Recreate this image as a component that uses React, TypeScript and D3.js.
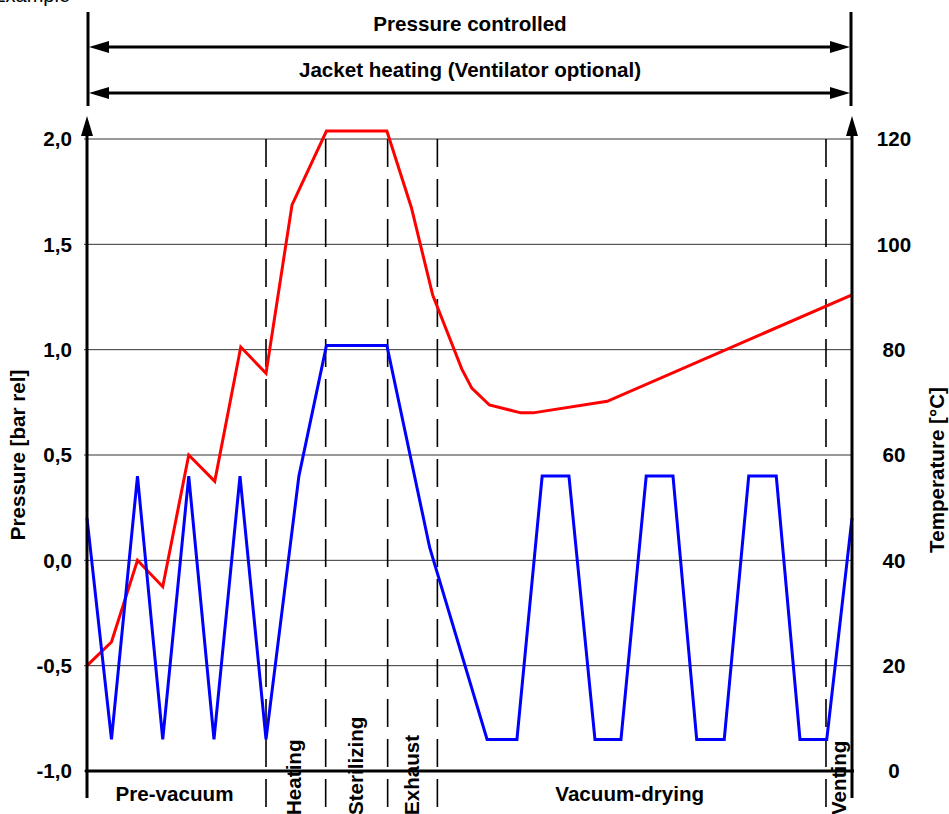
import React from 'react';
import * as d3 from 'd3';

// process time in arbitrary units (0 = start, 100 = end of cycle)
const pressureTime = [0, 3.2, 6.6, 9.9, 13.3, 16.6, 20.0, 23.4, 27.7, 31.3, 39.2, 44.8, 52.3, 56.2, 59.5, 63.0, 66.4, 69.8, 73.1, 76.6, 79.7, 83.3, 86.5, 90.1, 93.2, 96.7, 100];
const pressureValues = [0.2, -0.85, 0.4, -0.85, 0.4, -0.85, 0.4, -0.85, 0.4, 1.02, 1.02, 0.06, -0.85, -0.85, 0.4, 0.4, -0.85, -0.85, 0.4, 0.4, -0.85, -0.85, 0.4, 0.4, -0.85, -0.85, 0.2];

const tempTime = [0, 3.2, 6.6, 9.9, 13.3, 16.7, 20.1, 23.4, 26.8, 31.3, 39.2, 42.4, 45.2, 49.0, 50.3, 52.6, 56.7, 58.3, 68.0, 100];
const tempValues = [20, 24.5, 40, 35, 60, 55, 80.5, 75.5, 107.5, 121.5, 121.5, 107, 90.3, 76.3, 72.7, 69.5, 68, 68, 70.2, 90.4];

const phaseBounds = [23.4, 31.2, 39.3, 45.8, 96.6];

const pressureTicks = [2, 1.5, 1, 0.5, 0, -0.5, -1];
const pressureTickLabels = ['2,0', '1,5', '1,0', '0,5', '0,0', '-0,5', '-1,0'];
const tempTicks = [120, 100, 80, 60, 40, 20, 0];

const flatPhases = ['Pre-vacuum', 'Vacuum-drying'];
const flatPhaseSpan = [[0, 23.4], [45.8, 96.6]];
const tallPhases = ['Heating', 'Sterilizing', 'Exhaust', 'Venting'];
const tallPhaseBaseline = [301, 363, 419, 846];

const spans = ['Pressure controlled', 'Jacket heating (Ventilator optional)'];

const FONT = '"Liberation Sans", Arial, sans-serif';
const FS = 20.6;

function arrowHead(tx: number, ty: number, dir: 'left' | 'right' | 'up') {
  const len = 20, half = 6;
  if (dir === 'left') return `M${tx},${ty}L${tx + len},${ty - half}L${tx + len},${ty + half}Z`;
  if (dir === 'right') return `M${tx},${ty}L${tx - len},${ty - half}L${tx - len},${ty + half}Z`;
  return `M${tx},${ty}L${tx - half},${ty + len}L${tx + half},${ty + len}Z`;
}

export default function App() {
  const width = 949;
  const height = 814;
  const x = d3.scaleLinear().domain([0, 100]).range([87, 852]);
  const yP = d3.scaleLinear().domain([-1, 2]).range([771, 139]);
  const yT = d3.scaleLinear().domain([0, 120]).range([771, 139]);

  const pLine = d3.line<number>()
    .x((_, i) => x(pressureTime[i]))
    .y(d => yP(d));
  const tLine = d3.line<number>()
    .x((_, i) => x(tempTime[i]))
    .y(d => yT(d));

  const x0 = x(0);
  const x1 = x(100);
  const bottom = yP(-1);
  const top = yP(2);

  return (
    <svg width={width} height={height} style={{ position: 'absolute', left: 0, top: 0, background: '#fff' }}
      fontFamily={FONT}>
      {/* cut-off caption */}
      <text x={70} y={2} textAnchor="end" fontSize={20}>Example</text>

      {/* top spans */}
      <line x1={x0 + 1} x2={x0 + 1} y1={12} y2={106} stroke="#000" strokeWidth={3} />
      <line x1={x1 - 1} x2={x1 - 1} y1={12} y2={106} stroke="#000" strokeWidth={3} />
      {spans.map((s, i) => {
        const ly = i === 0 ? 47 : 93;
        return (
          <g key={s}>
            <text x={470} y={ly - 16} textAnchor="middle" fontSize={FS} fontWeight="bold">{s}</text>
            <line x1={x0 + 12} x2={x1 - 12} y1={ly} y2={ly} stroke="#000" strokeWidth={3} />
            <path d={arrowHead(x0 + 2, ly, 'left')} fill="#000" />
            <path d={arrowHead(x1 - 2, ly, 'right')} fill="#000" />
          </g>
        );
      })}

      {/* grid */}
      {pressureTicks.map(t => (
        <line key={t} x1={x0 - 3} x2={x1} y1={yP(t)} y2={yP(t)} stroke="#333" strokeWidth={1} />
      ))}

      {/* phase boundaries */}
      {phaseBounds.map(b => (
        <line key={b} x1={x(b)} x2={x(b)} y1={top} y2={808} stroke="#000" strokeWidth={1.6}
          strokeDasharray="28 12" />
      ))}

      {/* series */}
      <path d={tLine(tempValues) || ''} fill="none" stroke="#ff0000" strokeWidth={3} strokeLinejoin="miter" />
      <path d={pLine(pressureValues) || ''} fill="none" stroke="#0000ff" strokeWidth={3} strokeLinejoin="miter" />

      {/* axes */}
      <line x1={x0} x2={x0} y1={bottom + 27} y2={128} stroke="#000" strokeWidth={3} />
      <path d={arrowHead(x0, 116, 'up')} fill="#000" />
      <line x1={x1} x2={x1} y1={bottom + 27} y2={128} stroke="#000" strokeWidth={3} />
      <path d={arrowHead(x1, 116, 'up')} fill="#000" />
      <line x1={x0 - 2} x2={x1 + 2} y1={bottom} y2={bottom} stroke="#000" strokeWidth={3} />

      {/* tick labels */}
      {pressureTicks.map((t, i) => (
        <text key={t} x={72} y={yP(t)} dy="0.35em" textAnchor="end" fontSize={FS} fontWeight="bold">
          {pressureTickLabels[i]}
        </text>
      ))}
      {tempTicks.map(t => (
        <text key={t} x={894} y={yT(t)} dy="0.35em" textAnchor="middle" fontSize={FS} fontWeight="bold">{t}</text>
      ))}

      {/* axis titles */}
      <text transform={`translate(25,455) rotate(-90)`} textAnchor="middle" fontSize={FS} fontWeight="bold">
        Pressure [bar rel]
      </text>
      <text transform={`translate(944,470) rotate(-90)`} textAnchor="middle" fontSize={FS} fontWeight="bold">
        Temperature [°C]
      </text>

      {/* phase labels */}
      {flatPhases.map((p, i) => (
        <text key={p} x={(x(flatPhaseSpan[i][0]) + x(flatPhaseSpan[i][1])) / 2 - 2} y={801}
          textAnchor="middle" fontSize={FS} fontWeight="bold">{p}</text>
      ))}
      {tallPhases.map((p, i) => (
        <text key={p} transform={`translate(${tallPhaseBaseline[i]},815) rotate(-90)`}
          textAnchor="start" fontSize={FS} fontWeight="bold">{p}</text>
      ))}
    </svg>
  );
}
